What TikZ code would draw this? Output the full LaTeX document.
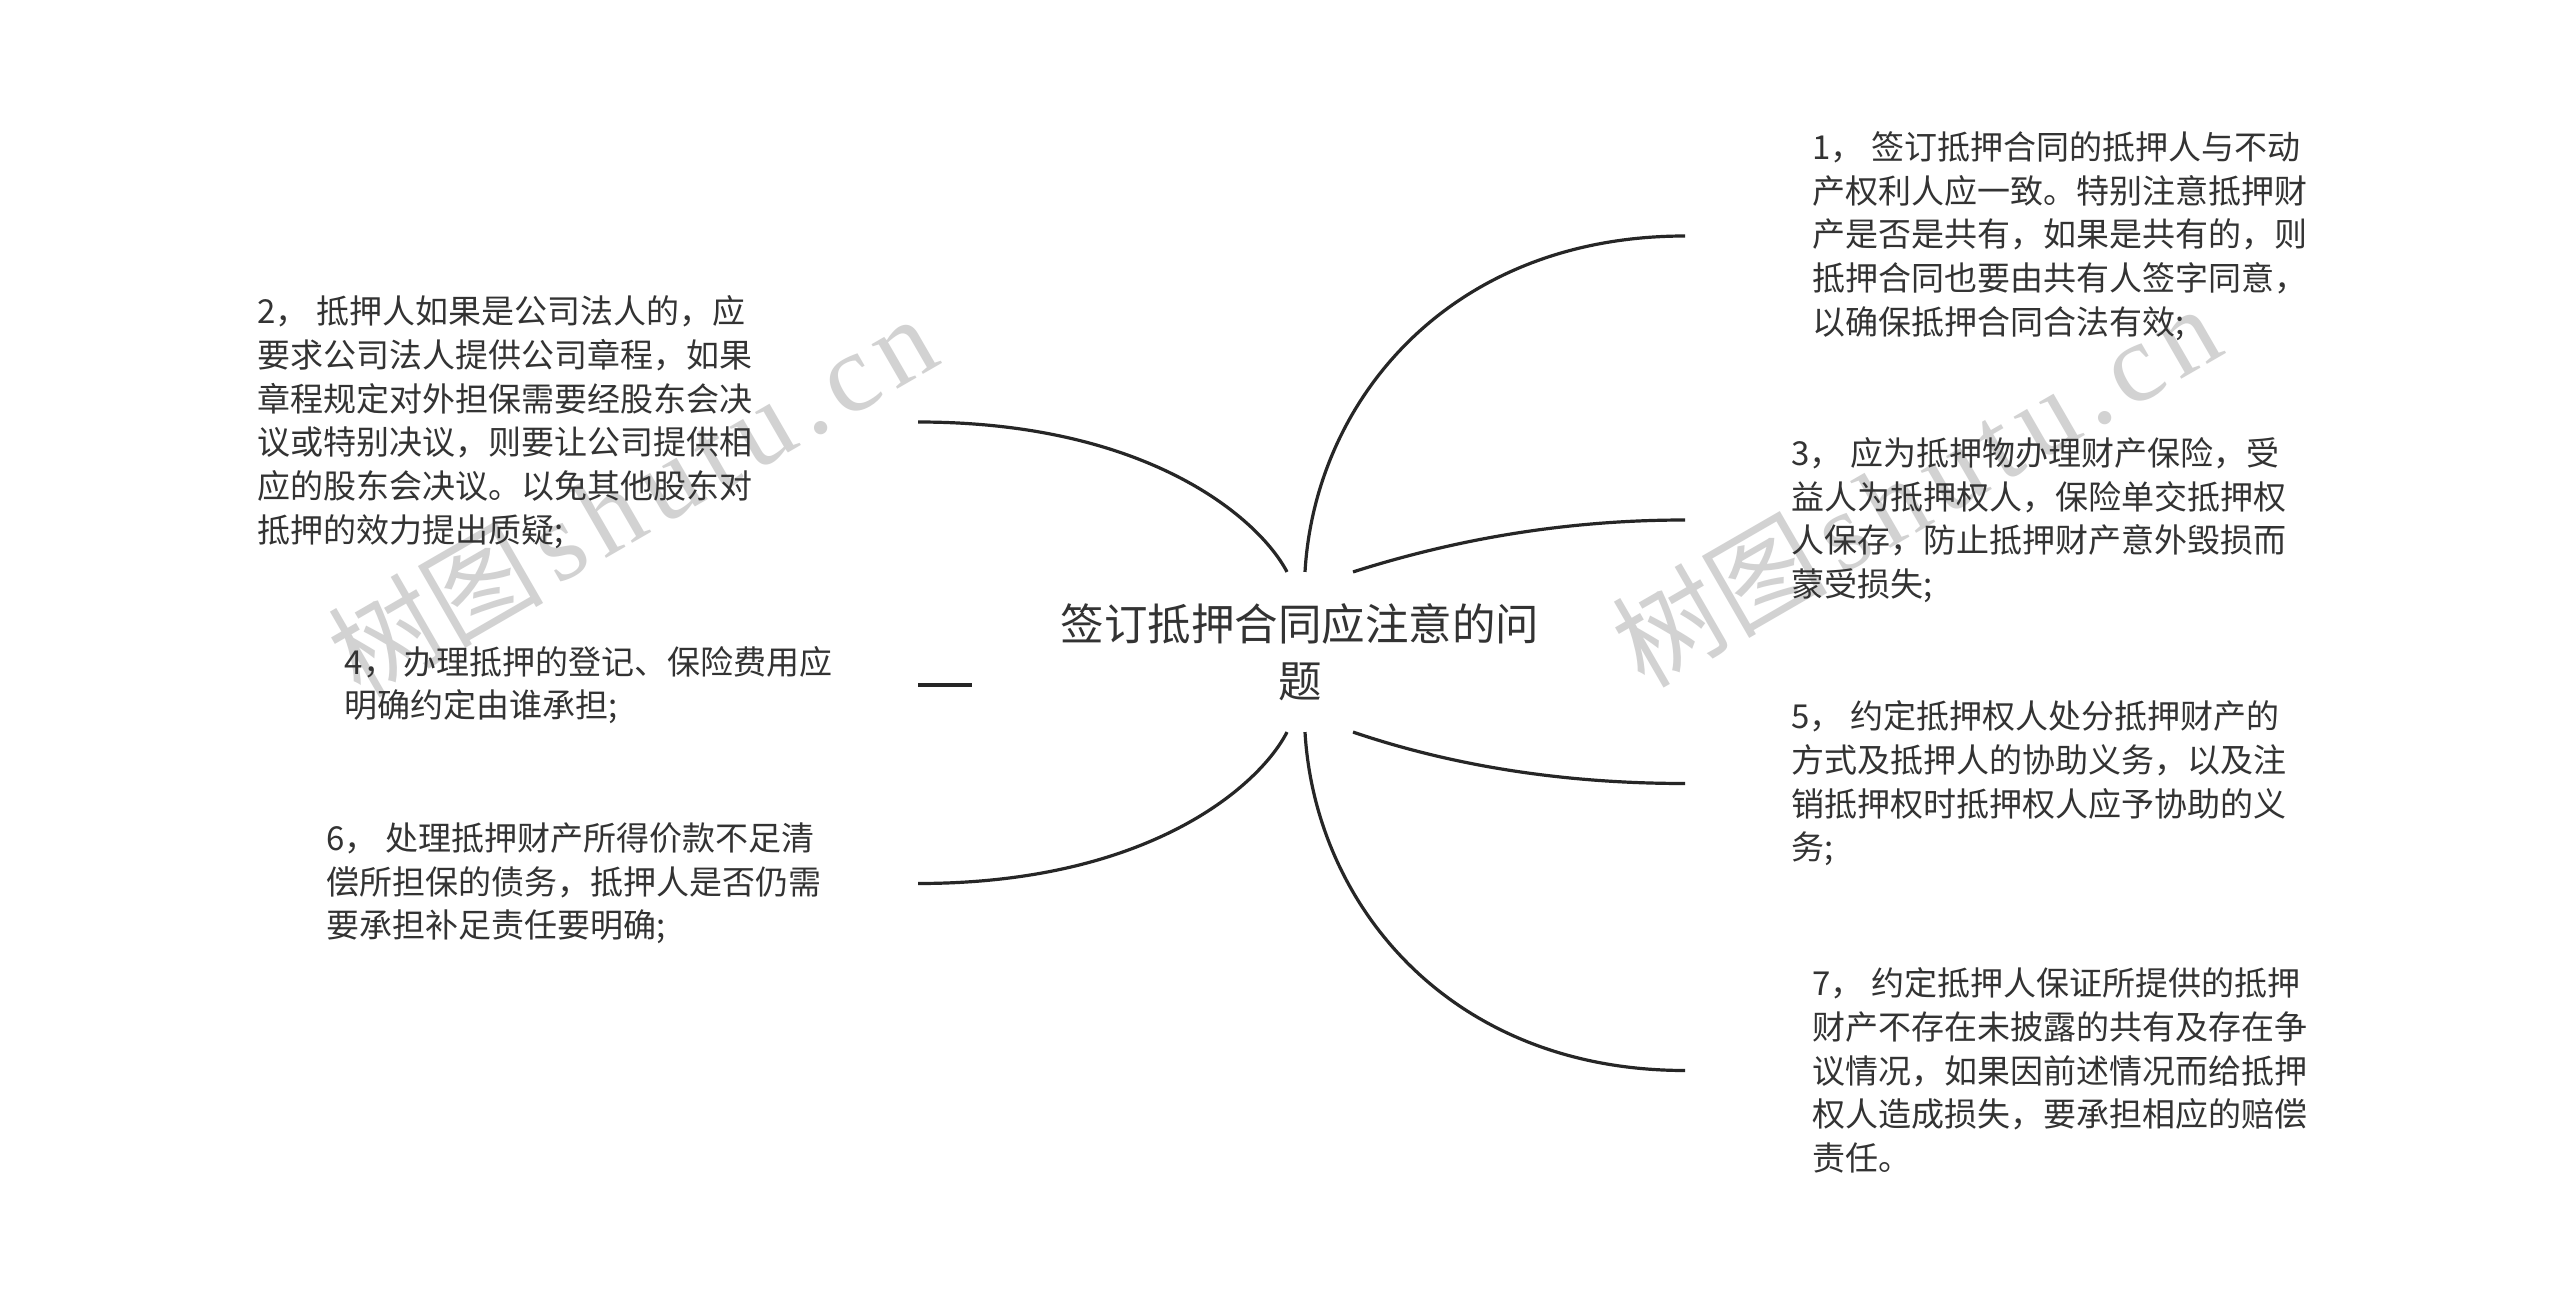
\documentclass[tikz,border=0pt]{standalone}
\usepackage{fontspec}
\setmainfont{Liberation Serif}
\newfontfamily\cjk{Noto Sans CJK SC}
\newfontfamily\wmlatin{Liberation Serif}
\definecolor{txt}{HTML}{333333}
\definecolor{lnc}{HTML}{262626}
\definecolor{wmc}{HTML}{D2D2D2}
\newcommand{\wmtext}{{\cjk\fontsize{54pt}{54pt}\selectfont 树图}\hspace{6pt}{\wmlatin\fontsize{56pt}{56pt}\selectfont s\kern5pt h\kern5pt u\kern5pt t\kern5pt u\kern5pt .\kern5pt c\kern5pt n}}
\begin{document}
\begin{tikzpicture}[x=0.5pt,y=-0.5pt,
  leaf/.style={align=left, text=txt, inner ysep=0pt,
    font=\cjk\fontsize{16.5pt}{21.85pt}\selectfont},
  rootnode/.style={align=center, text=txt, inner xsep=0pt, inner ysep=15.5pt,
    font=\cjk\fontsize{21.75pt}{28.5pt}\selectfont},
  conn/.style={draw=lnc, line width=1.6pt},
  wmark/.style={text=wmc, inner sep=0pt, anchor=base west, rotate=30}]
\fill[white] (0,0) rectangle (2560,1305);
\useasboundingbox (0,0) rectangle (2560,1305);
% watermarks
\node[wmark] (wmL) at (360,700) {\wmtext};
\node[wmark] (wmR) at (1644,690) {\wmtext};
% root
\node[rootnode] (root) at (1300,652) {签订抵押合同应注意的问\\题};
% right leaves
\node[leaf, anchor=west, inner xsep=63.5pt] (b1) at (1685,236) {1， 签订抵押合同的抵押人与不动\\产权利人应一致。特别注意抵押财\\产是否是共有，如果是共有的，则\\抵押合同也要由共有人签字同意，\\以确保抵押合同合法有效;};
\node[leaf, anchor=west, inner xsep=53pt] (b3) at (1685,520) {3， 应为抵押物办理财产保险，受\\益人为抵押权人，保险单交抵押权\\人保存，防止抵押财产意外毁损而\\蒙受损失;};
\node[leaf, anchor=west, inner xsep=53pt] (b5) at (1685,783.5) {5， 约定抵押权人处分抵押财产的\\方式及抵押人的协助义务，以及注\\销抵押权时抵押权人应予协助的义\\务;};
\node[leaf, anchor=west, inner xsep=63.5pt] (b7) at (1685,1070.5) {7， 约定抵押人保证所提供的抵押\\财产不存在未披露的共有及存在争\\议情况，如果因前述情况而给抵押\\权人造成损失，要承担相应的赔偿\\责任。};
% left leaves
\node[leaf, anchor=east, inner xsep=82.5pt] (b2) at (918,422) {2， 抵押人如果是公司法人的，应\\要求公司法人提供公司章程，如果\\章程规定对外担保需要经股东会决\\议或特别决议，则要让公司提供相\\应的股东会决议。以免其他股东对\\抵押的效力提出质疑;};
\node[leaf, anchor=east, inner xsep=42.5pt] (b4) at (918,685) {4， 办理抵押的登记、保险费用应\\明确约定由谁承担;};
\node[leaf, anchor=east, inner xsep=48pt] (b6) at (918,883.5) {6， 处理抵押财产所得价款不足清\\偿所担保的债务，抵押人是否仍需\\要承担补足责任要明确;};
% connectors
\draw[conn] ([xshift=2.5pt]root.north) .. controls (1315,400) and (1450,236) .. (b1.west);
\draw[conn] ([xshift=26.5pt]root.north) .. controls (1450,541) and (1560,520) .. (b3.west);
\draw[conn] ([xshift=26.5pt]root.south) .. controls (1450,765) and (1560,783.5) .. (b5.west);
\draw[conn] ([xshift=2.5pt]root.south) .. controls (1315,905) and (1450,1070.5) .. (b7.west);
\draw[conn] ([xshift=-6.5pt]root.north) .. controls (1260,520) and (1150,422) .. (b2.east);
\draw[conn] (b4.east) -- ++(54,0);
\draw[conn] ([xshift=-6.5pt]root.south) .. controls (1260,785) and (1150,883.5) .. (b6.east);
\end{tikzpicture}
\end{document}
